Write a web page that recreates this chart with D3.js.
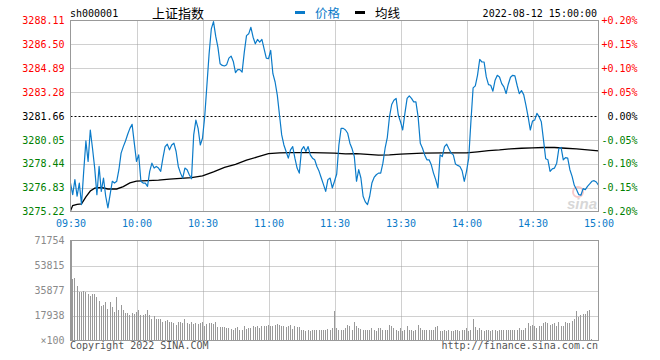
<!DOCTYPE html>
<html><head><meta charset="utf-8">
<script src="https://cdn.jsdelivr.net/npm/d3@7"></script>
<style>
body{margin:0;background:#fff;}
svg{display:block;}
text{font-family:"DejaVu Sans Mono",monospace;font-size:10px;}
</style>
</head><body><svg id="c" width="660" height="360"></svg>
<script>
const symbol = "sh000001";
const title = "上证指数";
const legendNames = ["价格", "均线"];
const stamp = "2022-08-12 15:00:00";
const copyright = "Copyright 2022 SINA.COM";
const siteUrl = "http://finance.sina.com.cn";
const prevClose = 3281.66;
const priceTicks = [3275.22, 3276.83, 3278.44, 3280.05, 3281.66, 3283.28, 3284.89, 3286.50, 3288.11];
const pctTicks = ["-0.20%", "-0.15%", "-0.10%", "-0.05%", "0.00%", "+0.05%", "+0.10%", "+0.15%", "+0.20%"];
const timeTicks = [0, 30, 60, 90, 120, 150, 180, 210, 240];
const timeLabels = ["09:30", "10:00", "10:30", "11:00", "11:30", "13:30", "14:00", "14:30", "15:00"];
const volTicks = [0, 17938, 35877, 53815, 71754];
const volTickLabels = ["×100", "17938", "35877", "53815", "71754"];

// minute-by-minute index price (241 points, 09:30-11:30, 13:01-15:00)
const price = [
3277.14,3276.36,3277.37,3276.25,3277.14,3275.69,3277.93,3279.98,3278.60,3280.72,
3279.49,3278.15,3276.36,3278.26,3276.58,3277.48,3276.25,3275.47,3276.36,3277.26,
3277.14,3277.26,3278.04,3279.16,3279.60,3279.98,3280.43,3280.83,3281.10,3279.83,
3278.60,3279.04,3277.26,3277.14,3277.14,3276.92,3277.93,3278.48,3278.15,3278.26,
3278.15,3277.93,3278.82,3279.60,3279.76,3279.38,3279.71,3279.83,3279.27,3278.26,
3277.81,3277.48,3278.15,3278.04,3277.70,3277.43,3280.39,3281.39,3280.83,3279.71,
3280.16,3281.62,3283.74,3285.86,3287.54,3288.03,3287.05,3286.31,3285.19,3285.08,
3285.04,3285.13,3285.57,3285.71,3285.35,3284.59,3284.79,3284.79,3284.63,3285.98,
3287.09,3287.21,3287.65,3286.98,3286.54,3286.83,3286.65,3286.83,3286.20,3285.57,
3285.53,3286.09,3284.52,3283.96,3283.07,3281.73,3280.39,3279.71,3279.27,3278.82,
3279.38,3279.60,3278.82,3278.15,3277.81,3279.38,3279.60,3279.27,3279.60,3279.04,
3278.82,3278.71,3278.26,3277.93,3277.48,3277.03,3276.58,3277.37,3277.48,3276.81,
3277.26,3277.75,3279.71,3280.83,3280.83,3280.72,3280.50,3279.83,3279.45,3278.93,
3277.26,3278.04,3277.48,3276.25,3275.87,3275.69,3276.25,3277.14,3277.52,3277.70,
3277.81,3277.81,3278.48,3279.49,3280.21,3281.62,3282.44,3282.73,3282.85,3281.73,
3281.28,3280.72,3281.84,3282.85,3283.02,3282.85,3282.62,3282.62,3281.62,3279.83,
3279.49,3279.04,3278.71,3278.71,3278.37,3277.81,3277.37,3276.81,3279.04,3278.93,
3279.60,3279.76,3279.45,3279.16,3279.04,3278.42,3278.33,3278.26,3277.97,3277.26,
3277.93,3278.82,3281.28,3283.56,3283.70,3284.41,3285.48,3285.31,3285.31,3284.30,
3283.78,3283.74,3283.34,3284.08,3284.41,3284.30,3283.85,3283.63,3283.18,3283.81,
3284.28,3284.41,3284.37,3283.74,3283.18,3283.38,3283.11,3282.40,3281.62,3280.72,
3281.32,3281.39,3281.84,3281.62,3281.28,3280.05,3278.78,3278.71,3277.93,3278.10,
3278.15,3278.48,3279.49,3279.54,3278.71,3278.86,3278.82,3278.04,3277.59,3276.99,
3276.70,3276.36,3276.32,3276.76,3276.70,3276.92,3277.08,3277.26,3277.30,3277.21,3276.99
];

// average price line, read at these minute indexes
const avgMinutes = [0,1,3,5,7,9,11,14,17,21,24,27,30,35,40,45,50,55,60,65,70,75,80,85,90,95,100,105,110,120,125,130,135,140,145,150,155,160,170,180,185,190,195,200,205,210,215,220,225,230,235,240];
const avgPrice = [3275.27,3275.62,3275.70,3275.74,3276.20,3276.60,3276.80,3276.84,3276.74,3276.74,3276.90,3277.15,3277.27,3277.31,3277.34,3277.40,3277.45,3277.50,3277.62,3277.90,3278.20,3278.40,3278.68,3278.90,3279.12,3279.18,3279.20,3279.20,3279.19,3279.16,3279.11,3279.13,3279.07,3279.02,3279.04,3279.09,3279.13,3279.16,3279.18,3279.18,3279.25,3279.33,3279.38,3279.45,3279.49,3279.51,3279.54,3279.54,3279.49,3279.45,3279.38,3279.31];

// volume per minute (x100 lots)
const volume = [
71754,
43770,44730,39460,34680,34680,35400,34680,33010,31810,33010,
33010,31570,28700,25110,25830,27270,22720,27980,23680,20330,
31570,22240,25830,21530,19850,19850,17940,20090,18900,20330,
21530,17940,18420,18660,21530,17940,15070,17460,15070,15550,
15550,13630,14350,14830,13630,13150,12200,11480,13630,13150,
12440,15550,12440,11960,13630,11960,12680,11960,12200,13150,
10760,11960,12680,12680,11960,13630,9570,9570,9570,9570,
9090,9090,8370,7650,8850,9570,7890,7890,10050,8370,
8850,8850,10760,9570,10280,8850,10280,10760,10760,11240,
10760,10760,11480,11960,11240,10050,10050,9570,10050,11480,
8370,10760,9570,9570,7890,7180,6460,7180,6460,7180,
7180,7890,7180,7180,7890,7890,8370,7890,8850,20810,
8850,7890,7180,7890,8850,11480,10050,7890,13150,10280,
8850,8370,7890,7890,7890,7180,8850,7180,6460,8850,
8850,7890,7180,7890,11480,10760,8850,7180,6460,8850,
6460,7890,10760,7180,7890,6460,7180,11480,8850,7180,
7890,7890,7180,7180,7890,9570,10280,6460,6460,7180,
6460,7180,6460,6460,7180,7180,6460,7180,7890,8850,
6460,7890,15070,9570,7180,8850,7180,6460,7180,7180,
6460,7180,7180,6460,7180,7890,7890,7890,7180,7180,
7890,7890,7890,8850,7890,7890,8850,12440,10280,11480,
10280,8850,10050,10280,12440,13150,12440,11480,11960,12440,
10760,13150,10760,10760,13630,12440,12440,14350,15070,20810,
16740,17940,18660,19370,20810,21530,1200,0,0,0
];

const BLUE = "#0b7bc9", RED = "#ff0000", GREEN = "#008000", GRID = "#a0a0a0", FRAME = "#999999";
const svg = d3.select("#c");

const x = d3.scaleLinear().domain([0, 240]).range([70.5, 598.5]);
const y = d3.scaleLinear().domain([priceTicks[0], priceTicks[priceTicks.length - 1]]).range([211.5, 20.5]);
const vy = d3.scaleLinear().domain([0, volTicks[volTicks.length - 1]]).range([340.5, 240.5]);

function labelColor(v) { return Math.abs(v - prevClose) < 1e-6 ? "#000" : (v > prevClose ? RED : GREEN); }

// ---------- price panel grid ----------
const gp = svg.append("g");
gp.selectAll("line.h").data(priceTicks.filter(v => v !== prevClose && v !== priceTicks[0] && v !== priceTicks[priceTicks.length-1]))
  .join("line").attr("x1", x(0)).attr("x2", x(240)).attr("y1", d => Math.round(y(d)) + 0.5).attr("y2", d => Math.round(y(d)) + 0.5)
  .attr("stroke", GRID).attr("stroke-dasharray", "1,1");
gp.selectAll("line.v").data(timeTicks.slice(1, -1)).join("line")
  .attr("x1", d => Math.round(x(d)) + 0.5).attr("x2", d => Math.round(x(d)) + 0.5).attr("y1", y.range()[1]).attr("y2", y.range()[0])
  .attr("stroke", GRID).attr("stroke-dasharray", "1,1");
gp.append("line").attr("x1", x(0)).attr("x2", x(240)).attr("y1", Math.round(y(prevClose)) + 0.5).attr("y2", Math.round(y(prevClose)) + 0.5)
  .attr("stroke", "#000").attr("stroke-dasharray", "2,2");

// watermark
const wm = svg.append("g").attr("opacity", 0.55);
wm.append("circle").attr("cx", 578).attr("cy", 192).attr("r", 5).attr("fill", "none").attr("stroke", "#f2a0a0").attr("stroke-width", 2);
wm.append("text").attr("x", 597).attr("y", 209).attr("text-anchor", "end")
  .style("font-family", "'Liberation Sans',Arial,sans-serif").style("font-size", "15px").style("font-style", "italic").style("font-weight", "bold")
  .attr("fill", "#b8b8b8").text("sina");

// avg line
svg.append("path").datum(avgMinutes.map((m, i) => [m, avgPrice[i]]))
  .attr("fill", "none").attr("stroke", "#000").attr("stroke-width", 1.3)
  .attr("d", d3.line().x(d => x(d[0])).y(d => y(d[1])));
// price line
svg.append("path").datum(price)
  .attr("fill", "none").attr("stroke", BLUE).attr("stroke-width", 1.2).attr("stroke-linejoin", "round")
  .attr("d", d3.line().x((d, i) => x(i)).y(d => y(d)));

// frame
svg.append("rect").attr("x", x(0)).attr("y", y.range()[1]).attr("width", x(240) - x(0)).attr("height", y.range()[0] - y.range()[1])
  .attr("fill", "none").attr("stroke", FRAME);

// left price axis
const ax1 = svg.append("g").attr("transform", `translate(${x(0)},0)`)
  .call(d3.axisLeft(y).tickValues(priceTicks).tickFormat(d3.format(".2f")).tickSize(0).tickPadding(6));
ax1.select(".domain").remove();
ax1.selectAll("text").attr("fill", d => labelColor(d)).style("font-family", "'DejaVu Sans Mono',monospace").style("font-size", "10px");

// right pct axis
const ax2 = svg.append("g").attr("transform", `translate(${x(240)},0)`)
  .call(d3.axisRight(y).tickValues(priceTicks).tickFormat((d, i) => pctTicks[i]).tickSize(0).tickPadding(39));
ax2.select(".domain").remove();
ax2.selectAll("text").attr("text-anchor", "end").attr("fill", d => labelColor(d)).style("font-family", "'DejaVu Sans Mono',monospace").style("font-size", "10px");

// time axis
const ax3 = svg.append("g").attr("transform", `translate(0,${y.range()[0]})`)
  .call(d3.axisBottom(x).tickValues(timeTicks).tickFormat((d, i) => timeLabels[i]).tickSize(0).tickPadding(8));
ax3.select(".domain").remove();
ax3.selectAll("text").attr("fill", BLUE).style("font-family", "'DejaVu Sans Mono',monospace").style("font-size", "10px");

// ---------- volume panel ----------
const gv = svg.append("g");
gv.selectAll("line.h").data(volTicks.slice(1, -1)).join("line")
  .attr("x1", x(0)).attr("x2", x(240)).attr("y1", d => Math.round(vy(d)) + 0.5).attr("y2", d => Math.round(vy(d)) + 0.5)
  .attr("stroke", GRID).attr("stroke-dasharray", "1,1");
gv.selectAll("line.v").data(timeTicks.slice(1, -1)).join("line")
  .attr("x1", d => Math.round(x(d)) + 0.5).attr("x2", d => Math.round(x(d)) + 0.5).attr("y1", vy.range()[1]).attr("y2", vy.range()[0])
  .attr("stroke", GRID).attr("stroke-dasharray", "1,1");
gv.selectAll("rect.bar").data(volume).join("rect")
  .attr("shape-rendering", "crispEdges")
  .attr("x", (d, i) => Math.floor(x(i)) + (i === 0 ? 1 : 0)).attr("width", 1)
  .attr("y", d => Math.round(vy(d))).attr("height", d => Math.round(vy(0)) - Math.round(vy(d)))
  .attr("fill", "#999999");
svg.append("rect").attr("x", x(0)).attr("y", vy.range()[1]).attr("width", x(240) - x(0)).attr("height", vy.range()[0] - vy.range()[1])
  .attr("fill", "none").attr("stroke", FRAME);
const ax4 = svg.append("g").attr("transform", `translate(${x(0)},0)`)
  .call(d3.axisLeft(vy).tickValues(volTicks).tickFormat((d, i) => volTickLabels[i]).tickSize(0).tickPadding(6));
ax4.select(".domain").remove();
ax4.selectAll("text").attr("fill", "#8a8a8a").style("font-family", "'DejaVu Sans Mono',monospace").style("font-size", "10px");

// ---------- header ----------
svg.append("text").attr("x", 70).attr("y", 17).attr("fill", "#000").text(symbol);
svg.append("text").attr("x", 152).attr("y", 17.5).attr("fill", "#000")
  .style("font-family", "'Noto Sans CJK SC',sans-serif").style("font-size", "13px").text(title);
svg.append("rect").attr("x", 295).attr("y", 11).attr("width", 10).attr("height", 3).attr("fill", BLUE);
svg.append("text").attr("x", 315).attr("y", 17.5).attr("fill", BLUE)
  .style("font-family", "'Noto Sans CJK SC',sans-serif").style("font-size", "12.5px").text(legendNames[0]);
svg.append("rect").attr("x", 355).attr("y", 11).attr("width", 10).attr("height", 3).attr("fill", "#000");
svg.append("text").attr("x", 375).attr("y", 17.5).attr("fill", "#000")
  .style("font-family", "'Noto Sans CJK SC',sans-serif").style("font-size", "12.5px").text(legendNames[1]);
svg.append("text").attr("x", 597).attr("y", 16.5).attr("text-anchor", "end").attr("fill", "#000").text(stamp);

// ---------- footer ----------
svg.append("text").attr("x", 70).attr("y", 349).attr("fill", "#555").text(copyright);
svg.append("text").attr("x", 598).attr("y", 349).attr("text-anchor", "end").attr("fill", "#555").text(siteUrl);
</script>
</body></html>
